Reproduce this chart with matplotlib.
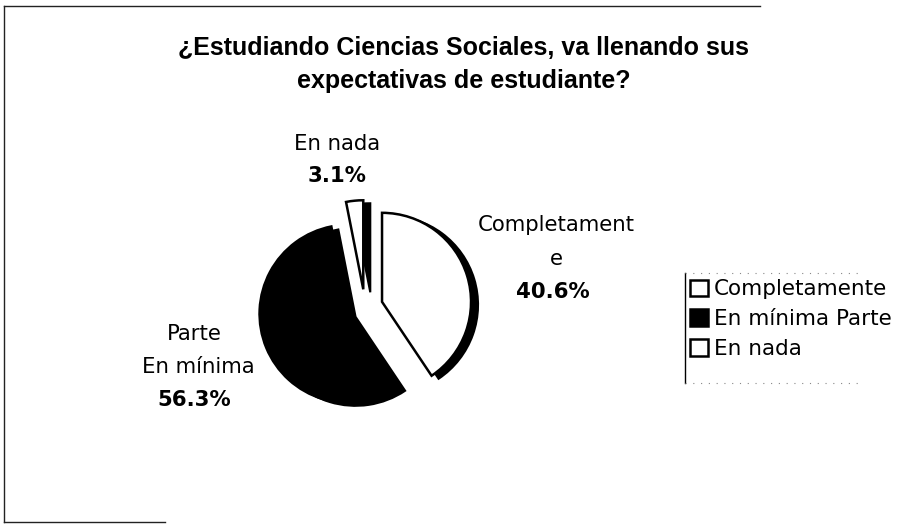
import matplotlib
matplotlib.use('Agg')
import matplotlib.pyplot as plt
from matplotlib.lines import Line2D

categories = ['Completamente', 'En mínima Parte', 'En nada']
values = [40.6, 56.3, 3.1]
slice_labels = ['Completament\ne', 'Parte\nEn mínima', 'En nada']
pct_labels = ['40.6%', '56.3%', '3.1%']
colors = ['white', 'black', 'white']
title_lines = ['¿Estudiando Ciencias Sociales, va llenando sus', 'expectativas de estudiante?']

W, H = 906, 525
R = 89.0
fig = plt.figure(figsize=(W / 100, H / 100), dpi=100)
fig.patch.set_facecolor('white')
ax = fig.add_axes([0, 0, 1, 1])

cx, cy = 365 / R, (H - 307) / R
explode = [0.2, 0.2, 0.2]
# 3D depth (black extrusion behind the faces)
ax.pie(values, colors=['black'] * 3, startangle=90, counterclock=False,
       explode=explode, radius=1, center=(cx + 7 / R, cy - 3 / R),
       wedgeprops=dict(edgecolor='black', linewidth=1.5))
wedges, _ = ax.pie(values, colors=colors, startangle=90, counterclock=False,
                   explode=explode, radius=1, center=(cx, cy),
                   wedgeprops=dict(edgecolor='black', linewidth=1.8))
ax.set_xlim(0, W / R)
ax.set_ylim(0, H / R)
ax.set_aspect('equal')
ax.axis('off')

def px(x, y):
    return x / W, 1 - y / H

lab_font = 'DejaVu Sans'
# title
fig.text(*px(464, 48), title_lines[0], ha='center', va='center',
         fontsize=18, fontweight='bold', family='Liberation Sans')
fig.text(*px(464, 81), title_lines[1], ha='center', va='center',
         fontsize=18, fontweight='bold', family='Liberation Sans')

# slice labels
label_pos = [[(556, 225), (556, 259)], [(194, 334), (198, 367)], [(337, 144)]]
pct_pos = [(553, 292), (194, 400), (337, 176)]
for lab, pos_list, pct, pp in zip(slice_labels, label_pos, pct_labels, pct_pos):
    for line, pos in zip(lab.split('\n'), pos_list):
        fig.text(*px(*pos), line, ha='center', va='center', fontsize=15.3, family=lab_font)
    fig.text(*px(*pp), pct, ha='center', va='center', fontsize=15.3,
             fontweight='bold', family=lab_font)

leg = fig.legend(wedges, categories, loc='upper left',
                 bbox_to_anchor=(684 / W, 1 - 273 / H), frameon=False,
                 handlelength=0.8, handleheight=0.8,
                 handletextpad=0.3, labelspacing=0.45, borderaxespad=0, borderpad=0.3,
                 prop={'family': lab_font, 'size': 15.5})

# legend frame as in the scan: solid left side, faint dotted top/bottom
fig.add_artist(Line2D([685 / W, 685 / W], [1 - 273 / H, 1 - 383 / H],
                      transform=fig.transFigure, color='black', linewidth=1))
for yy in (273, 383):
    fig.add_artist(Line2D([685 / W, 860 / W], [1 - yy / H, 1 - yy / H],
                          transform=fig.transFigure, color='#888888', linewidth=0.8,
                          linestyle=(0, (1, 6))))

# outer border (partial, as in the scan)
for (x0, y0, x1, y1) in [(4, 6, 760, 6), (4, 6, 4, 522), (4, 522, 165, 522)]:
    fig.add_artist(Line2D([x0 / W, x1 / W], [1 - y0 / H, 1 - y1 / H],
                          transform=fig.transFigure, color='#222222', linewidth=1))

fig.savefig('out.png', dpi=100, facecolor='white')
